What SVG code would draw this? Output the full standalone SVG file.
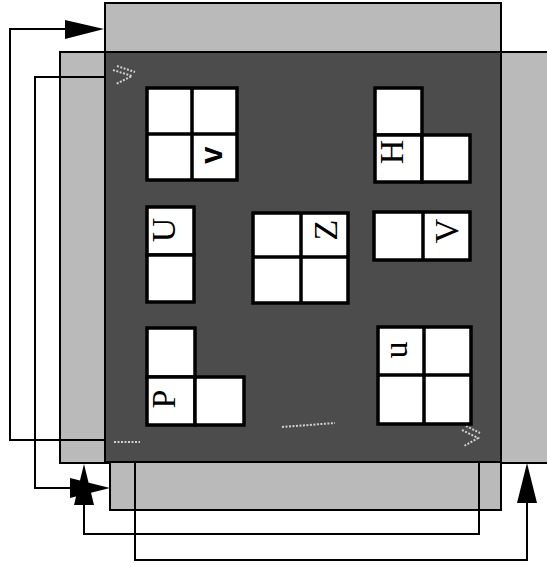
<svg xmlns="http://www.w3.org/2000/svg" width="547" height="569" viewBox="0 0 547 569">
<style>
.light{fill:#bababa;stroke:#000;stroke-width:2}
.dark{fill:#4c4c4c;stroke:#000;stroke-width:2}
.cell{fill:#fff;stroke:#000;stroke-width:3.5}
.div{stroke:#000;stroke-width:3.5;fill:none}
.conn{fill:none;stroke:#000;stroke-width:2}
.head{fill:#000;stroke:none}
.mark{fill:none;stroke:#d0d0d0;stroke-width:2;stroke-dasharray:2 1.5}
.ser{font-family:"Liberation Serif","Times New Roman",serif;font-size:34px;fill:#000}
.sans{font-family:"Liberation Sans",Arial,sans-serif;font-size:31px;font-weight:bold;fill:#000}
</style>
<rect width="547" height="569" fill="#fff"/>
<g id="panels">
  <rect id="panel-middle" class="light" x="60" y="52" width="490" height="411"/>
  <rect id="panel-top" class="light" x="105" y="3" width="396" height="49"/>
  <rect id="panel-bottom" class="light" x="110" y="462" width="391" height="48"/>
  <rect id="panel-front" class="dark" x="105" y="52" width="396" height="410"/>
  <path class="mark" d="M113 70 L132 76 L116 84 M117 66 L135 72"/>
  <path class="mark" d="M462 430 L478 438 L464 446 M466 426 L480 433"/>
  <path class="mark" d="M114 442 H140"/>
  <path class="mark" d="M282 427 L335 423"/>
</g>
<g id="connectors">
  <polyline class="conn" points="105,440 10,440 10,29 98,29"/>
  <polygon class="head" points="104,29 65,20 65,39"/>
  <polyline class="conn" points="105,77 35,77 35,488 100,488"/>
  <polygon class="head" points="110,488 70,478 70,498"/>
  <polyline class="conn" points="479,462 479,534 84,534 84,470"/>
  <polygon class="head" points="84,464 74,505 94,505"/>
  <polyline class="conn" points="135,462 135,560 527,560 527,470"/>
  <polygon class="head" points="527,463 517,503 537,503"/>
</g>
<g id="block-v">
  <rect class="cell" x="147" y="88" width="90" height="92"/>
  <path class="div" d="M192 88 V180 M147 134 H237"/>
  <text class="sans" transform="translate(222,155) rotate(-90)" text-anchor="middle">v</text>
</g>
<g id="block-H">
  <rect class="cell" x="375" y="88" width="47" height="47"/>
  <rect class="cell" x="375" y="135" width="47" height="47"/>
  <rect class="cell" x="422" y="135" width="48" height="47"/>
  <text class="ser" transform="translate(403,152) rotate(-90)" text-anchor="middle">H</text>
</g>
<g id="block-U">
  <rect class="cell" x="147" y="207" width="47" height="48"/>
  <rect class="cell" x="147" y="255" width="47" height="47"/>
  <text class="ser" transform="translate(175,230) rotate(-90)" text-anchor="middle">U</text>
</g>
<g id="block-Z">
  <rect class="cell" x="253" y="213" width="95" height="90"/>
  <path class="div" d="M301 213 V303 M253 257 H348"/>
  <text class="ser" transform="translate(337,230) rotate(-90)" text-anchor="middle">Z</text>
</g>
<g id="block-V">
  <rect class="cell" x="374" y="212" width="96" height="48"/>
  <path class="div" d="M423 212 V260"/>
  <text class="ser" transform="translate(458,231) rotate(-90)" text-anchor="middle">V</text>
</g>
<g id="block-P">
  <rect class="cell" x="147" y="328" width="48" height="49"/>
  <rect class="cell" x="147" y="377" width="48" height="48"/>
  <rect class="cell" x="195" y="377" width="49" height="48"/>
  <text class="ser" transform="translate(175,399) rotate(-90)" text-anchor="middle">P</text>
</g>
<g id="block-u">
  <rect class="cell" x="378" y="327" width="93" height="97"/>
  <path class="div" d="M424 327 V424 M378 375 H471"/>
  <text class="ser" transform="translate(407,350) rotate(-90)" text-anchor="middle">u</text>
</g>
</svg>
